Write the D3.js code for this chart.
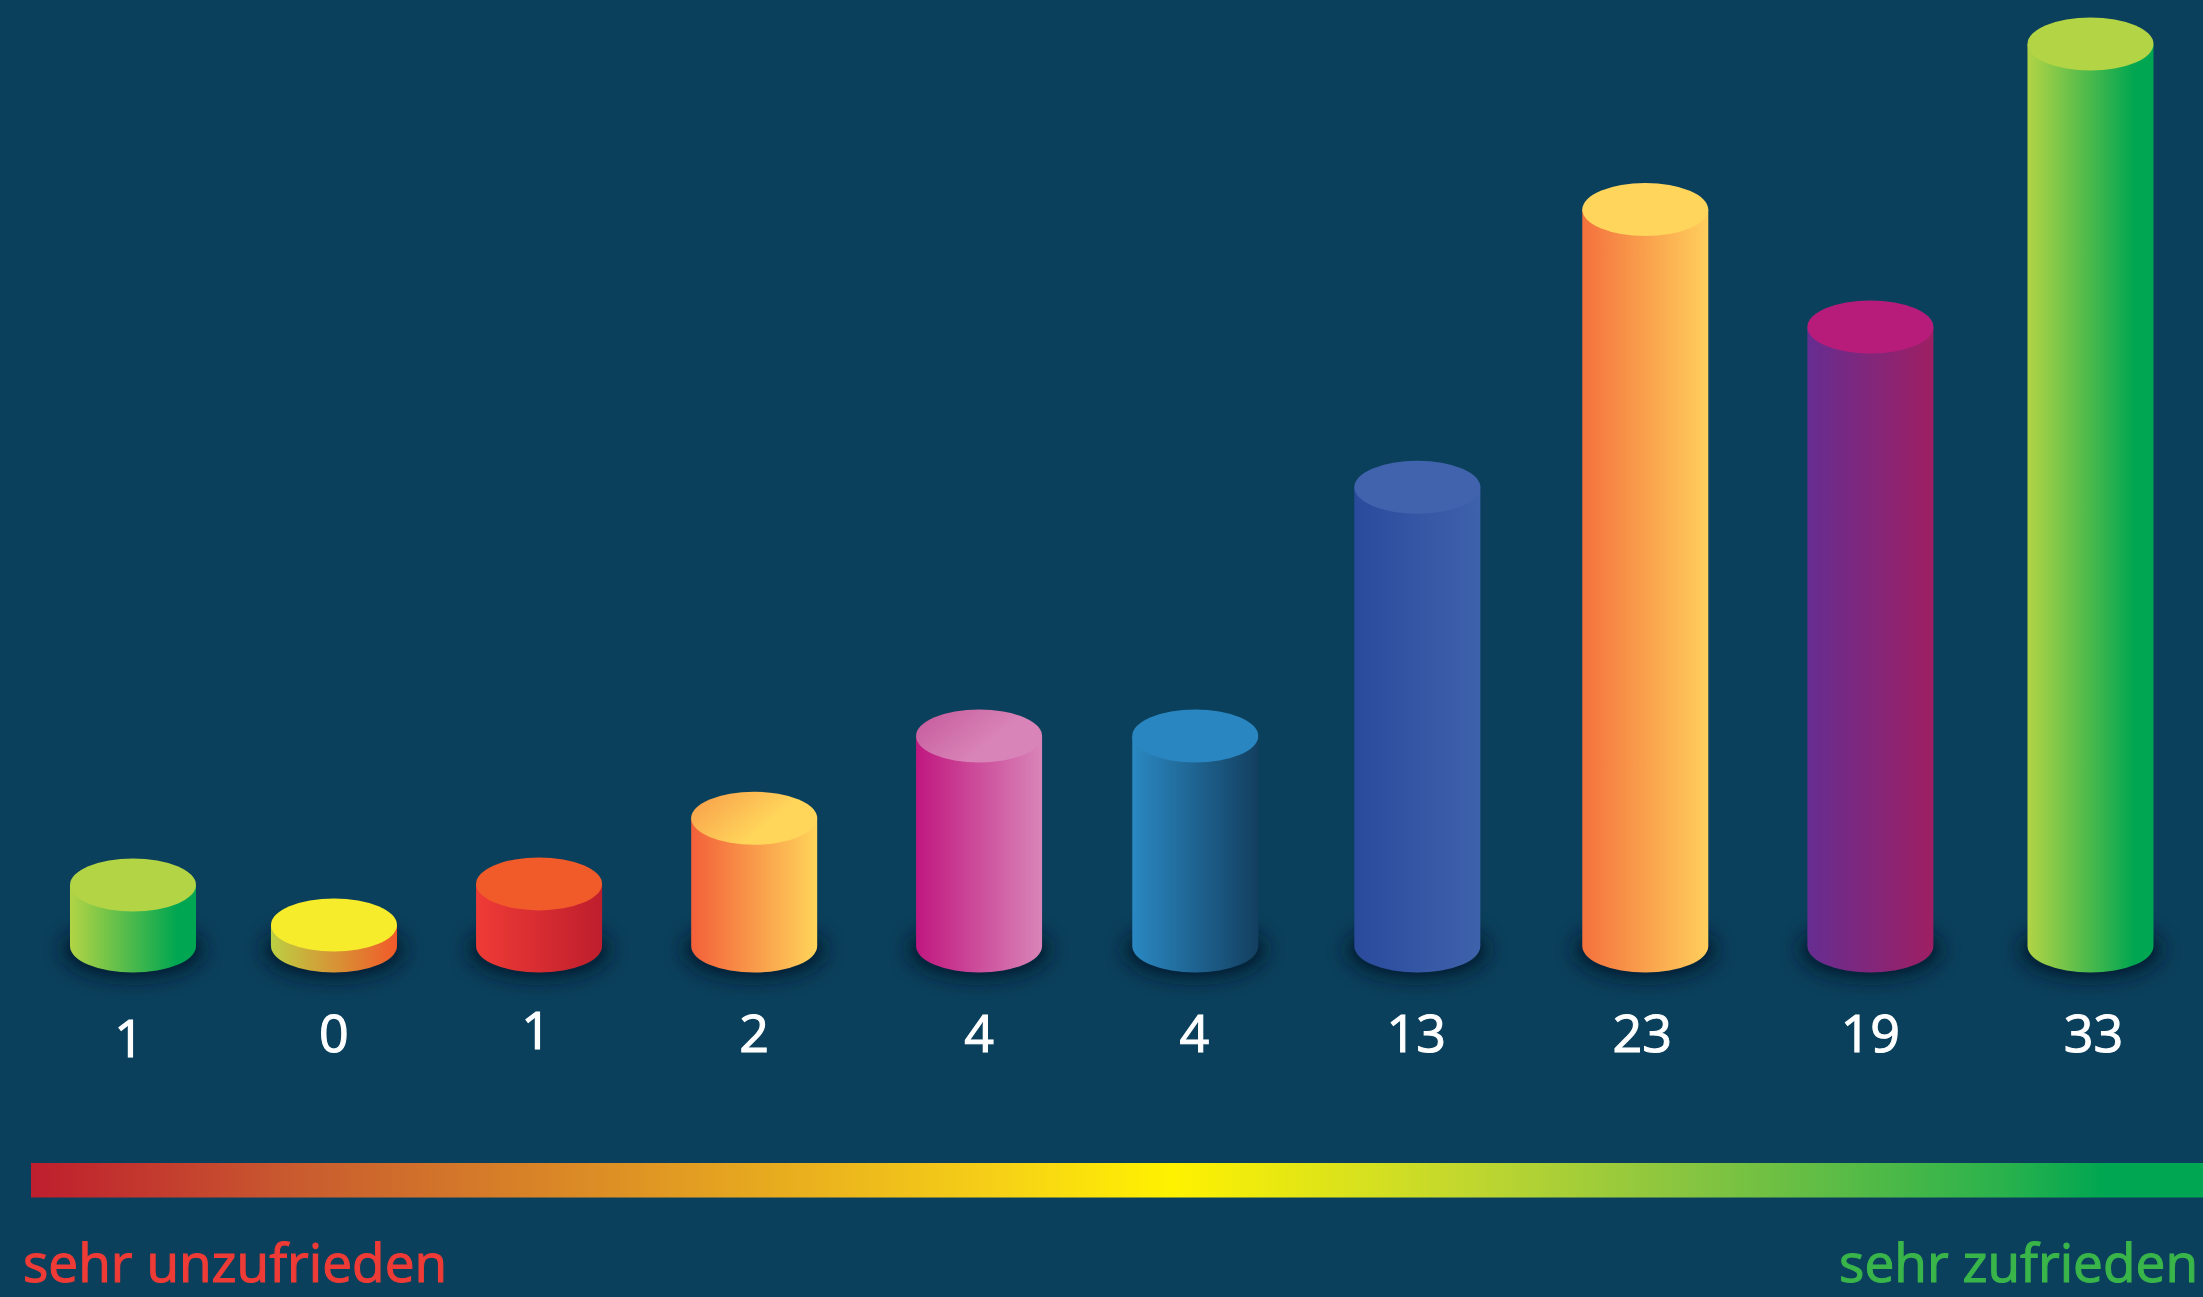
<!DOCTYPE html>
<html lang="de">
<head>
<meta charset="utf-8">
<title>Zufriedenheit</title>
<script src="https://cdn.jsdelivr.net/npm/d3@7"></script>
<style>
  html, body { margin: 0; padding: 0; background: #0b405c; overflow: hidden; }
  svg { display: block; }
  text { font-family: "Open Sans", "Noto Sans", sans-serif; }
</style>
</head>
<body>
<svg></svg>
<script>
// printed numbers under the cylinders
var labels = [1, 0, 1, 2, 4, 4, 13, 23, 19, 33];
// drawn heights, they are not proportional to the printed numbers
var heights = [1.5, 0, 1.54, 4.0, 7.08, 7.08, 16.4, 26.8, 22.4, 33];
// horizontal slot of each cylinder, the gaps in the picture are uneven
var slots = [0, 0.924, 1.867, 2.856, 3.89, 4.884, 5.905, 6.953, 7.988, 9];
// small shifts of the printed numbers relative to their cylinder
var labelShiftX = [-4, 0, -3, 0, 0, -1, -1, -3, 0, 3];
var labelShiftY = [5, 0, -3, 0, 0, 0, 0, 0, 0, 0];

var bodyLeft = ['#b2d445', '#bccf42', '#ef3b36', '#f3603a', '#c0177f', '#2a88c2', '#2a4a9c', '#f4713d', '#662d91', '#b2d445'];
var bodyRight = ['#00a651', '#f15a29', '#be1e2d', '#ffd45a', '#d985b8', '#133f60', '#3f62ac', '#ffcf5c', '#9e1f63', '#00a651'];
var bodyRightStop = [0.85, 1, 1, 1, 1, 1, 1, 1, 1, 0.85];
var topLeft = ['#b2d445', '#f7ec2b', '#f15a29', '#f9a54d', '#c8609f', '#2a86c0', '#4163ad', '#ffd55c', '#b81c7b', '#b2d445'];
var topRight = ['#b2d445', '#f7ec2b', '#f15a29', '#ffd55a', '#d984b8', '#2a86c0', '#4163ad', '#ffd55c', '#b81c7b', '#b2d445'];

var scaleStops = [0, 0.124, 0.446, 0.525, 0.663, 0.755, 0.907, 0.955, 1];
var scaleColors = ['#be1e2d', '#c95c2f', '#f6d117', '#fff200', '#c0d72f', '#8cc63f', '#2bb24c', '#00a651', '#00a651'];

var width = 2203;
var height = 1297;
var rx = 63;
var ry = 26.5;
var baseY = 946;

var xScale = d3.scaleLinear().domain([0, 9]).range([133, 2090.5]);
var yScale = d3.scaleLinear().domain([0, 33]).range([925, 44]);

var indexes = d3.range(labels.length);

var svg = d3.select('svg')
    .attr('width', width)
    .attr('height', height);

svg.append('rect')
    .attr('width', width)
    .attr('height', height)
    .attr('fill', '#0b405c');

var defs = svg.append('defs');

defs.append('filter')
    .attr('id', 'blur')
    .attr('x', '-30%').attr('y', '-60%')
    .attr('width', '160%').attr('height', '220%')
  .append('feGaussianBlur')
    .attr('stdDeviation', 10);

indexes.forEach(i => {
    var body = defs.append('linearGradient').attr('id', 'body' + i);
    body.append('stop').attr('offset', 0).attr('stop-color', bodyLeft[i]);
    body.append('stop').attr('offset', bodyRightStop[i]).attr('stop-color', bodyRight[i]);

    var top = defs.append('linearGradient')
        .attr('id', 'top' + i)
        .attr('x1', 0).attr('y1', 0.3)
        .attr('x2', 0.6).attr('y2', 0.6);
    top.append('stop').attr('offset', 0).attr('stop-color', topLeft[i]);
    top.append('stop').attr('offset', 1).attr('stop-color', topRight[i]);
});

var barGradient = defs.append('linearGradient').attr('id', 'ratingScale');
scaleStops.forEach((s, i) => {
    barGradient.append('stop').attr('offset', s).attr('stop-color', scaleColors[i]);
});

var bars = svg.append('g')
  .selectAll('g')
    .data(indexes)
    .enter()
    .append('g');

bars.append('ellipse')
    .attr('cx', i => xScale(slots[i]))
    .attr('cy', baseY + 4)
    .attr('rx', rx + 8)
    .attr('ry', ry + 2)
    .attr('fill', '#021826')
    .attr('opacity', 0.85)
    .attr('filter', 'url(#blur)');

bars.append('path')
    .attr('d', i => {
        var cx = xScale(slots[i]);
        var topY = yScale(heights[i]);
        return `M${cx - rx},${topY} L${cx - rx},${baseY} A${rx},${ry} 0 0 0 ${cx + rx},${baseY} L${cx + rx},${topY} Z`;
    })
    .attr('fill', i => `url(#body${i})`);

bars.append('ellipse')
    .attr('cx', i => xScale(slots[i]))
    .attr('cy', i => yScale(heights[i]))
    .attr('rx', rx)
    .attr('ry', ry)
    .attr('fill', i => `url(#top${i})`);

// a thin stroke gives the medium weight, only regular and bold are installed
bars.append('text')
    .attr('x', i => xScale(slots[i]) + labelShiftX[i])
    .attr('y', i => 1052 + labelShiftY[i])
    .attr('text-anchor', 'middle')
    .attr('font-size', 52)
    .attr('fill', '#ffffff')
    .attr('stroke', '#ffffff')
    .attr('stroke-width', 1.1)
    .text(i => labels[i]);

svg.append('rect')
    .attr('x', 31)
    .attr('y', 1163)
    .attr('width', width - 31)
    .attr('height', 34.5)
    .attr('fill', 'url(#ratingScale)');

svg.append('text')
    .attr('x', 23)
    .attr('y', 1282)
    .attr('font-size', 53.2)
    .attr('fill', '#ef3b36')
    .attr('stroke', '#ef3b36')
    .attr('stroke-width', 1.1)
    .text('sehr unzufrieden');

svg.append('text')
    .attr('x', 2198)
    .attr('y', 1282)
    .attr('text-anchor', 'end')
    .attr('font-size', 53.2)
    .attr('fill', '#39b54a')
    .attr('stroke', '#39b54a')
    .attr('stroke-width', 1.1)
    .text('sehr zufrieden');
</script>
</body>
</html>
